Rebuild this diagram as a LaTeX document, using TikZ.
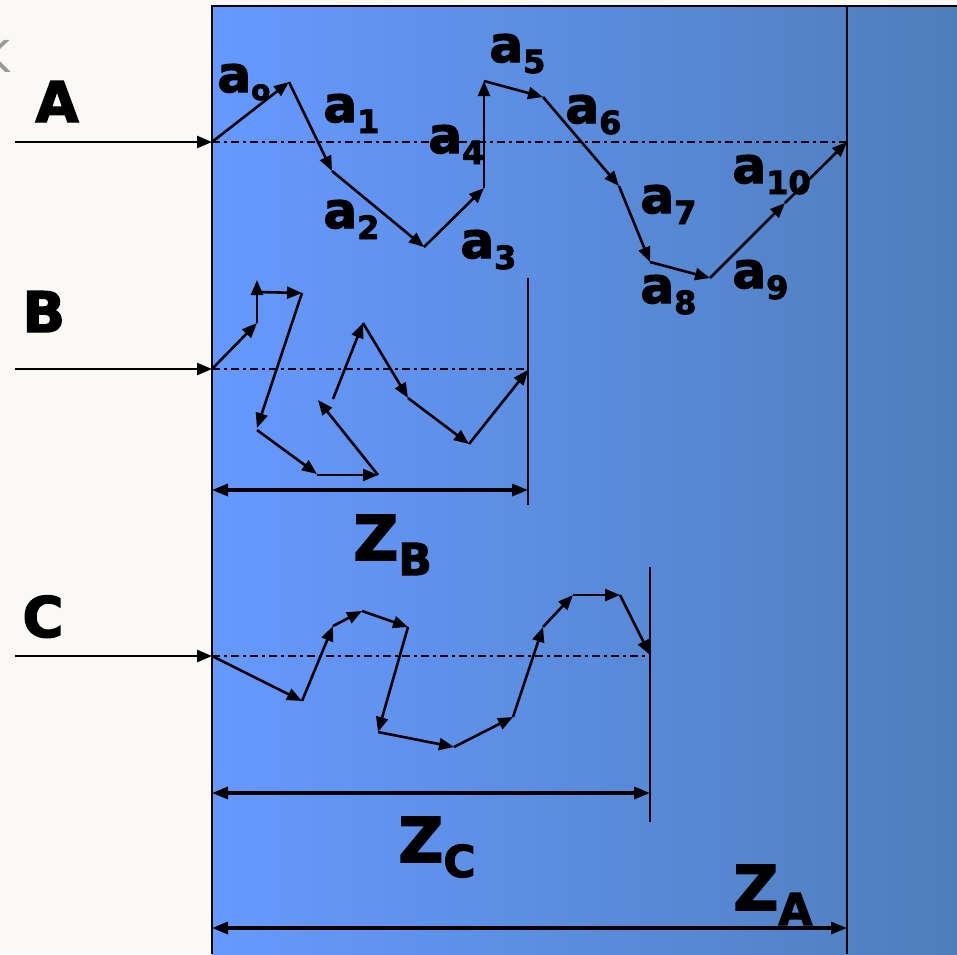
\documentclass[tikz,border=0pt]{standalone}
\usepackage{fontspec}
\setmainfont{DejaVu Sans}
\newfontfamily\heavy{DejaVu Sans Bold}[FakeBold=2.5]
\usetikzlibrary{arrows.meta}

\definecolor{paper}{RGB}{250,249,245}
\definecolor{bluelight}{RGB}{102,153,255}
\definecolor{bluedark}{RGB}{78,126,186}

% subscript lowered by #1, text #2
\newcommand{\sublow}[2]{\raisebox{#1}{\fontsize{16}{16}\selectfont #2}}

\begin{document}
\begin{tikzpicture}[
  x=0.5pt, y=-0.5pt,
  >={Triangle[length=7.5pt, width=6pt]},
  vec/.style={->, line width=1.3pt},
  feed/.style={->, line width=1.2pt},
  axisline/.style={line width=1pt, dash pattern=on 4pt off 2pt on 1.5pt off 2pt},
  limit/.style={line width=1pt},
  dim/.style={{Triangle[length=8pt, width=6pt]}-{Triangle[length=8pt, width=6pt]}, line width=1.6pt},
  vlab/.style={anchor=base west, inner sep=0pt, font=\fontsize{25}{25}\heavy},
  caselab/.style={anchor=base west, inner sep=0pt, font=\fontsize{28}{28}\heavy},
  zlab/.style={anchor=base west, inner sep=0pt, font=\fontsize{31}{31}\heavy},
]

\useasboundingbox (0,0) rectangle (957,954);

% ---- background and blue slab ----
\fill[paper] (0,0) rectangle (957,954);
\shade[left color=bluelight, right color=bluedark] (212,6) rectangle (957,954);
\draw[limit] (212,954) -- (212,6) -- (957,6);
\node[anchor=base east, inner sep=0pt, text=gray!80, font=\fontsize{22}{22}\selectfont] (kfrag) at (11,72) {K};

% ---- incoming beams ----
\coordinate (inA) at (15,142);  \coordinate (hitA) at (212,142);
\coordinate (inB) at (15,369);  \coordinate (hitB) at (212,369);
\coordinate (inC) at (15,656);  \coordinate (hitC) at (212,656);
\draw[feed] (inA) -- (hitA);
\draw[feed] (inB) -- (hitB);
\draw[feed] (inC) -- (hitC);

% ---- limits of travel ----
\coordinate (endA) at (847,142);
\coordinate (endB) at (528,369);
\coordinate (endC) at (650,656);
\draw[axisline] (hitA) -- (endA);
\draw[axisline] (hitB) -- (endB);
\draw[axisline] (hitC) -- (endC);
\draw[limit] (847,6) -- (847,954);
\draw[limit] (528,278) -- (528,505);
\draw[limit] (650,567) -- (650,822);

% ============================================================
% PATH A (a0 ... a10)
% ============================================================
\foreach \n/\x/\y in {0/212/142, 1/289/82, 2/332/171, 3/424/247, 4/484/188, 5/484/81,
                      6/543/97, 7/619/186, 8/650/262, 9/710/278, 10/785/203, 11/847/142}
  \coordinate (pA\n) at (\x,\y);
\foreach \i [evaluate=\i as \j using int(\i+1)] in {0,...,10}
  \draw[vec] (pA\i) -- (pA\j);

% ============================================================
% PATH B (folded back on itself)
% ============================================================
\foreach \n/\x/\y in {1/212/369, 2/257/323, 3/257/280, 4/257/292, 5/302/293, 6/257/428,
                      7/257/430, 8/317/474, 9/317/475, 10/378/475, 11/318/400, 12/333/399,
                      13/363/323, 14/408/398, 15/469/444, 16/528/370}
  \coordinate (pB\n) at (\x,\y);
\foreach \p/\q in {1/2, 2/3, 4/5, 5/6, 7/8, 9/10, 10/11, 12/13, 13/14, 14/15, 15/16}
  \draw[vec] (pB\p) -- (pB\q);

% ============================================================
% PATH C
% ============================================================
\foreach \n/\x/\y in {0/212/656, 1/302/701, 2/333/626, 3/362/611, 4/408/627, 5/378/732,
                      6/454/747, 7/513/717, 8/543/627, 9/573/595, 10/620/595, 11/650/655}
  \coordinate (pC\n) at (\x,\y);
\foreach \i [evaluate=\i as \j using int(\i+1)] in {0,...,10}
  \draw[vec] (pC\i) -- (pC\j);

% ---- dimension arrows ----
\coordinate (zB0) at (212,490);  \coordinate (zB1) at (528,490);
\coordinate (zC0) at (212,793);  \coordinate (zC1) at (650,793);
\coordinate (zA0) at (212,928);  \coordinate (zA1) at (847,928);
\draw[dim] (zB0) -- (zB1);
\draw[dim] (zC0) -- (zC1);
\draw[dim] (zA0) -- (zA1);

% ============================================================
% LABELS
% ============================================================
\node[caselab] (labA) at (35,122) {A};
\node[caselab] (labB) at (22,332) {B};
\node[caselab] (labC) at (22,637) {C};

\node[vlab] (la0)  at (217,92)  {a\raisebox{-4pt}{\fontsize{14}{14}\selectfont o}};
\node[vlab] (la1)  at (323,122) {a\sublow{-5.5pt}{1}};
\node[vlab] (la2)  at (323,228) {a\sublow{-5.5pt}{2}};
\node[vlab] (la3)  at (460,258) {a\sublow{-5.5pt}{3}};
\node[vlab] (la4)  at (428,153) {a\sublow{-5.5pt}{4}};
\node[vlab] (la5)  at (489,62)  {a\sublow{-5.5pt}{5}};
\node[vlab] (la6)  at (565,123) {a\sublow{-5.5pt}{6}};
\node[vlab] (la7)  at (640,213) {a\sublow{-5.5pt}{7}};
\node[vlab] (la8)  at (640,303) {a\sublow{-5.5pt}{8}};
\node[vlab] (la9)  at (732,288) {a\sublow{-5.5pt}{9}};
\node[vlab] (la10) at (732,183) {a\sublow{-5.5pt}{10}};

\node[zlab] (lzB) at (353,560) {Z\raisebox{-7.5pt}{\fontsize{22}{22}\selectfont B}};
\node[zlab] (lzC) at (398,862) {Z\raisebox{-7.5pt}{\fontsize{22}{22}\selectfont C}};
\node[zlab] (lzA) at (733,910) {Z\raisebox{-7.5pt}{\fontsize{22}{22}\selectfont A}};

\end{tikzpicture}
\end{document}
